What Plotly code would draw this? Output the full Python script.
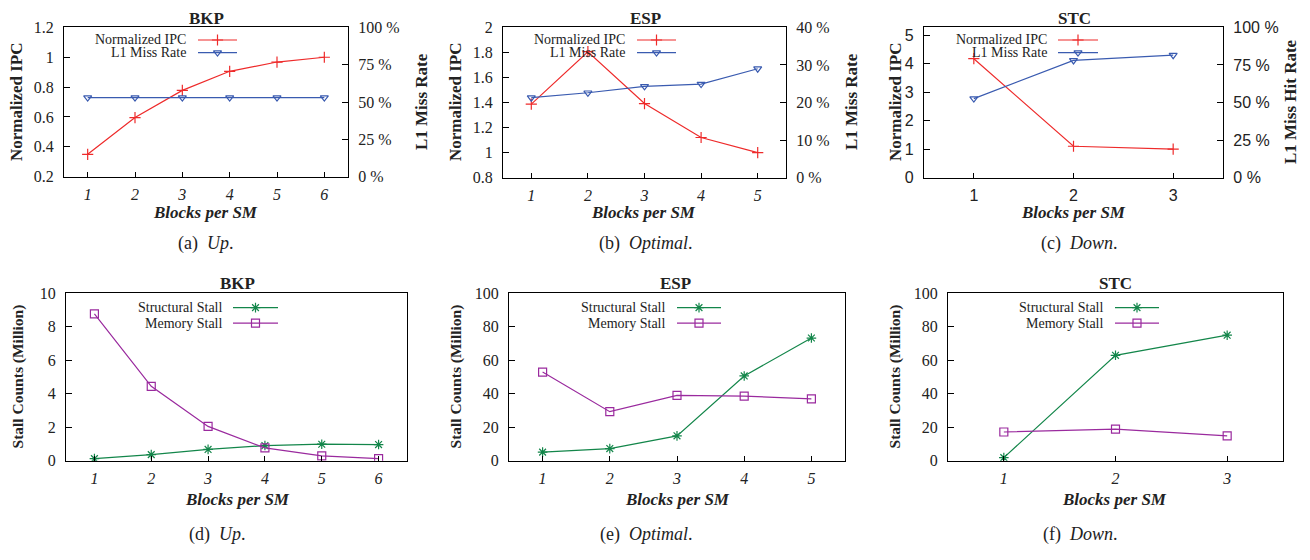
import plotly.graph_objects as go

W, H = 1310, 560

# ---------------- data ----------------
blocks_up = [1, 2, 3, 4, 5, 6]
blocks_opt = [1, 2, 3, 4, 5]
blocks_down = [1, 2, 3]

ipc_bkp = [0.35, 0.596, 0.778, 0.906, 0.968, 1.0]
miss_bkp = [53.0, 53.0, 53.0, 53.0, 53.0, 53.0]
ipc_esp = [1.387, 1.806, 1.392, 1.121, 1.0]
miss_esp = [21.3, 22.6, 24.3, 24.9, 29.0]
ipc_stc = [4.18, 1.105, 1.0]
miss_stc = [52.6, 78.0, 81.5]

struct_bkp = [0.13, 0.37, 0.68, 0.91, 0.99, 0.97]
mem_bkp = [8.76, 4.44, 2.05, 0.77, 0.29, 0.135]
struct_esp = [5.2, 7.3, 14.9, 50.6, 73.2]
mem_esp = [52.9, 29.3, 39.0, 38.6, 36.9]
struct_stc = [1.9, 62.9, 74.9]
mem_stc = [17.2, 18.9, 14.9]

pct_ticks_100 = [0, 25, 50, 75, 100]
pct_ticks_40 = [0, 10, 20, 30, 40]

titles = ["BKP", "ESP", "STC", "BKP", "ESP", "STC"]
captions = ["(a)  <i>Up</i>.", "(b)  <i>Optimal</i>.", "(c)  <i>Down</i>.",
            "(d)  <i>Up</i>.", "(e)  <i>Optimal</i>.", "(f)  <i>Down</i>."]

# ---------------- styles ----------------
RED = "#ee2b2b"
BLUE = "#3a5bb0"
GREEN = "#13864a"
PURPLE = "#9a2a9e"
INK = "#222222"
SERIF = "Liberation Serif"
SANS = "Liberation Sans"
TICK_SIZE = 16

# pixel boxes of plot areas: (left, top, right, bottom)
boxes = [(64, 20, 348, 174), (503, 20, 786, 175), (924, 20, 1223, 175),
         (66, 294, 407, 467), (509, 294, 845, 467), (948, 294, 1283, 467)]


def xdom(b):
    return [b[0] / W, b[2] / W]


def ydom(b):
    return [1 - b[3] / H, 1 - b[1] / H]


fig = go.Figure()


def line_trace(x, y, xa, ya, color, symbol, size):
    fig.add_trace(go.Scatter(
        x=x, y=y, xaxis=xa, yaxis=ya, mode="lines+markers",
        line=dict(color=color, width=1.2),
        marker=dict(symbol=symbol, size=size, color=color,
                    line=dict(color=color, width=1.2)),
        showlegend=False, hoverinfo="x+y"))


# top row
line_trace(blocks_up, ipc_bkp, "x", "y", RED, "cross-thin-open", 8)
line_trace(blocks_up, miss_bkp, "x", "y2", BLUE, "triangle-down-open", 7)
line_trace(blocks_opt, ipc_esp, "x2", "y3", RED, "cross-thin-open", 8)
line_trace(blocks_opt, miss_esp, "x2", "y4", BLUE, "triangle-down-open", 7)
line_trace(blocks_down, ipc_stc, "x3", "y5", RED, "cross-thin-open", 8)
line_trace(blocks_down, miss_stc, "x3", "y6", BLUE, "triangle-down-open", 7)
# bottom row
line_trace(blocks_up, struct_bkp, "x4", "y7", GREEN, "asterisk-open", 8)
line_trace(blocks_up, mem_bkp, "x4", "y7", PURPLE, "square-open", 8)
line_trace(blocks_opt, struct_esp, "x5", "y8", GREEN, "asterisk-open", 8)
line_trace(blocks_opt, mem_esp, "x5", "y8", PURPLE, "square-open", 8)
line_trace(blocks_down, struct_stc, "x6", "y9", GREEN, "asterisk-open", 8)
line_trace(blocks_down, mem_stc, "x6", "y9", PURPLE, "square-open", 8)

# ---------------- legend samples (pixel overlay axis) ----------------
legend_pos = [  # text right edge, line x0, line x1, row y's
    (188, 198, 237, 33, 46),
    (627, 637, 676, 33, 46),
    (1049, 1058, 1098, 33, 46),
    (224, 233, 278, 309, 325),
    (667, 677, 721, 309, 325),
    (1105, 1115, 1159, 309, 325),
]
ipc_items = [("Normalized IPC", RED, "cross-thin-open", 8),
             ("L1 Miss Rate", BLUE, "triangle-down-open", 7)]
stall_items = [("Structural Stall", GREEN, "asterisk-open", 8),
               ("Memory Stall", PURPLE, "square-open", 8)]
legend_items = [ipc_items, ipc_items, ipc_items, stall_items, stall_items, stall_items]

annotations = []
for (tx, lx0, lx1, r1, r2), items in zip(legend_pos, legend_items):
    for (label, color, sym, sz), ry in zip(items, (r1, r2)):
        fig.add_trace(go.Scatter(
            x=[lx0, lx1], y=[ry, ry], xaxis="x7", yaxis="y10", mode="lines",
            line=dict(color=color, width=1.2), showlegend=False, hoverinfo="skip"))
        fig.add_trace(go.Scatter(
            x=[(lx0 + lx1) / 2], y=[ry], xaxis="x7", yaxis="y10", mode="markers",
            marker=dict(symbol=sym, size=sz, color=color, line=dict(color=color, width=1.2)),
            showlegend=False, hoverinfo="skip"))
        annotations.append(dict(
            x=tx / W, y=1 - ry / H, xref="paper", yref="paper", xanchor="right",
            yanchor="middle", text=label, showarrow=False,
            font=dict(family=SERIF, size=14, color=INK)))


# ---------------- axes ----------------
def xaxis(b, rng, vals, anchor, font_family=SERIF, style="italic"):
    return dict(domain=xdom(b), range=rng, tickvals=vals, anchor=anchor,
                ticks="inside", ticklen=5, tickcolor="black", showline=True,
                mirror=True, linecolor="black", linewidth=1.2, showgrid=False,
                zeroline=False, ticklabelstandoff=3,
                tickfont=dict(family=font_family, size=TICK_SIZE, color=INK, style=style))


def yaxis(b, rng, dtick, anchor, font_family=SERIF):
    return dict(domain=ydom(b), range=rng, dtick=dtick, anchor=anchor,
                ticks="inside", ticklen=6, tickcolor="black", showline=True,
                mirror=True, linecolor="black", linewidth=1.2, showgrid=False,
                zeroline=False, ticklabelstandoff=6,
                tickfont=dict(family=font_family, size=TICK_SIZE, color=INK))


def yright(b, rng, vals, overlay, anchor, font_family=SERIF):
    return dict(domain=ydom(b), range=rng, tickvals=vals,
                ticktext=[f"{v} %" for v in vals],
                overlaying=overlay, side="right", anchor=anchor,
                ticks="inside", ticklen=6, tickcolor="black", showline=True,
                linecolor="black", linewidth=1.2, showgrid=False, zeroline=False,
                ticklabelstandoff=6,
                tickfont=dict(family=font_family, size=TICK_SIZE, color=INK))


layout = dict(
    xaxis=xaxis(boxes[0], [0.5, 6.5], blocks_up, "y"),
    yaxis=yaxis(boxes[0], [0.2, 1.2], 0.2, "x"),
    yaxis2=yright(boxes[0], [0, 100], pct_ticks_100, "y", "x"),
    xaxis2=xaxis(boxes[1], [0.5, 5.5], blocks_opt, "y3"),
    yaxis3=yaxis(boxes[1], [0.8, 2.0], 0.2, "x2"),
    yaxis4=yright(boxes[1], [0, 40], pct_ticks_40, "y3", "x2"),
    xaxis3=xaxis(boxes[2], [0.5, 3.5], blocks_down, "y5", SANS, "normal"),
    yaxis5=yaxis(boxes[2], [0, 5.28], 1, "x3", SANS),
    yaxis6=yright(boxes[2], [0, 100], pct_ticks_100, "y5", "x3", SANS),
    xaxis4=xaxis(boxes[3], [0.5, 6.5], blocks_up, "y7"),
    yaxis7=yaxis(boxes[3], [0, 10], 2, "x4"),
    xaxis5=xaxis(boxes[4], [0.5, 5.5], blocks_opt, "y8"),
    yaxis8=yaxis(boxes[4], [0, 100], 20, "x5"),
    xaxis6=xaxis(boxes[5], [0.5, 3.5], blocks_down, "y9"),
    yaxis9=yaxis(boxes[5], [0, 100], 20, "x6"),
    xaxis7=dict(domain=[0, 1], range=[0, W], visible=False, anchor="y10", fixedrange=True),
    yaxis10=dict(domain=[0, 1], range=[H, 0], visible=False, anchor="x7", fixedrange=True),
)

# ---------------- titles / axis labels / captions ----------------
title_pos = [(206, 11), (645, 11), (1074, 11), (237, 284), (676, 284), (1115, 284)]
for t, (x, y) in zip(titles, title_pos):
    annotations.append(dict(x=x / W, y=1 - y / H, xref="paper", yref="paper",
                            text=f"<b>{t}</b>", showarrow=False, xanchor="center",
                            yanchor="middle", font=dict(family=SERIF, size=17, color=INK)))

xlab_pos = [(205, 211), (643, 211), (1073, 211), (237, 507), (677, 507), (1114, 507)]
for (x, y) in xlab_pos:
    annotations.append(dict(x=x / W, y=1 - y / H, xref="paper", yref="paper",
                            text="<b><i>Blocks per SM</i></b>", showarrow=False,
                            xanchor="center", yanchor="middle",
                            font=dict(family=SERIF, size=17, color=INK)))

ylab = [
    ("Normalized IPC", 16, 97, 17), ("L1 Miss Rate", 421, 97, 17),
    ("Normalized IPC", 455, 97, 17), ("L1 Miss Rate", 851, 97, 17),
    ("Normalized IPC", 895, 97, 17), ("L1 Miss Hit Rate", 1290, 97, 17),
    ("Stall Counts (Million)", 18, 380, 15.5), ("Stall Counts (Million)", 456, 380, 15.5),
    ("Stall Counts (Million)", 895, 380, 15.5),
]
for text, x, y, size in ylab:
    annotations.append(dict(x=x / W, y=1 - y / H, xref="paper", yref="paper",
                            text=f"<b>{text}</b>", showarrow=False, textangle=-90,
                            xanchor="center", yanchor="middle",
                            font=dict(family=SERIF, size=size, color=INK)))

cap_pos = [(205, 243), (646, 243), (1079, 243), (217, 543), (646, 543), (1080, 543)]
for c, (x, y) in zip(captions, cap_pos):
    annotations.append(dict(x=x / W, y=1 - y / H, xref="paper", yref="paper",
                            text=c, showarrow=False, xanchor="center", yanchor="middle",
                            font=dict(family=SERIF, size=18, color=INK)))

fig.update_layout(
    width=W, height=H, margin=dict(l=0, r=0, t=0, b=0),
    paper_bgcolor="white", plot_bgcolor="rgba(0,0,0,0)",
    showlegend=False, annotations=annotations, **layout)

page_fix = (
    "var gd=document.getElementById('{plot_id}');"
    "gd.style.position='fixed';gd.style.top='0px';gd.style.left='0px';"
    "document.documentElement.style.margin='0';document.documentElement.style.padding='0';"
    "document.documentElement.style.overflow='hidden';"
    "document.body.style.margin='0';document.body.style.padding='0';"
    "document.body.style.overflow='hidden';"
)

fig.write_html("out.html", config={"displayModeBar": False, "responsive": False},
               post_script=page_fix)
